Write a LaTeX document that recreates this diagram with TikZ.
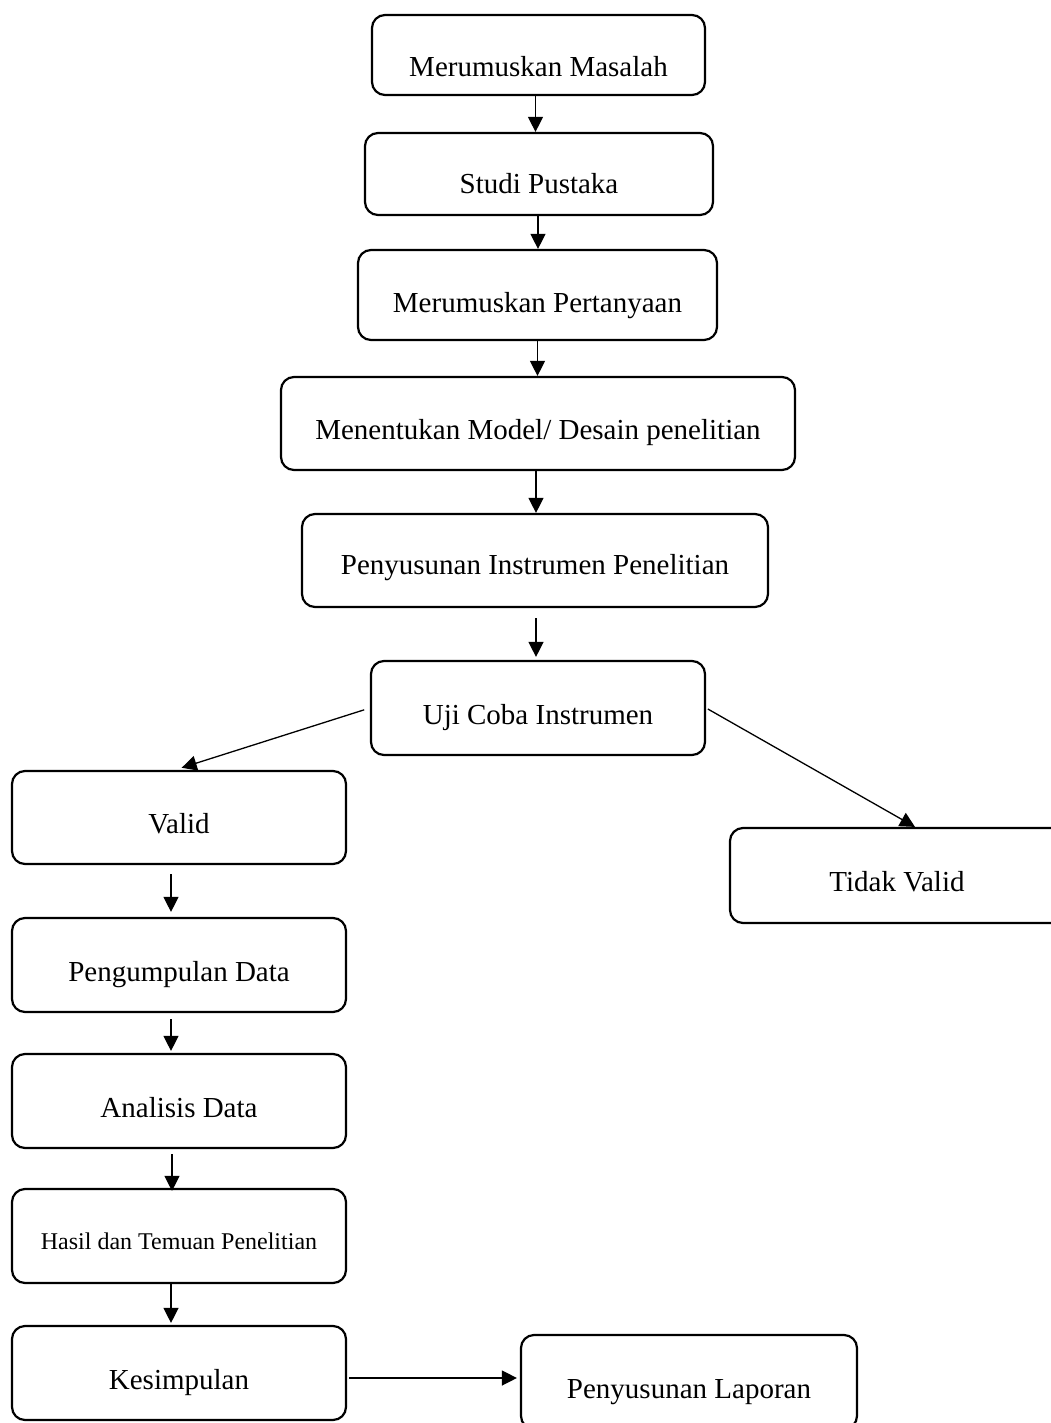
\documentclass[tikz,border=0pt]{standalone}
\usepackage{fontspec}
\setmainfont{Liberation Serif}
\usetikzlibrary{arrows.meta}
\begin{document}
\begin{tikzpicture}[x=1pt,y=-1pt,
  box/.style={draw, line width=2.2pt, rounded corners=13pt, inner sep=0pt,
    font=\fontsize{29}{34}\selectfont, text height=32pt, text depth=0pt, align=center},
  conn/.style={line width=1.3pt, -{Triangle[length=15pt,width=15pt]}}]
\useasboundingbox (0,0) rectangle (1051,1423);
\clip (0,0) rectangle (1051,1423);
\node[box, minimum width=333pt, minimum height=80pt, text height=44pt] (m1) at (538.5,55) {Merumuskan Masalah};
\node[box, minimum width=348pt, minimum height=82pt, text height=40pt] (m2) at (539,174) {Studi Pustaka};
\node[box, minimum width=359pt, minimum height=90pt, text height=34pt] (m3) at (537.5,295) {Merumuskan Pertanyaan};
\node[box, minimum width=514pt, minimum height=93pt] (m4) at (538,423.5) {Menentukan Model/ Desain penelitian};
\node[box, minimum width=466pt, minimum height=93pt, text height=28pt] (m5) at (535,560.5) {Penyusunan Instrumen Penelitian};
\node[box, minimum width=334pt, minimum height=94pt] (m6) at (538,708) {Uji Coba Instrumen};
\node[box, minimum width=334pt, minimum height=93pt] (valid) at (179,817.5) {Valid};
\node[box, minimum width=334pt, minimum height=95pt] (tv) at (897,875.5) {Tidak Valid};
\node[box, minimum width=334pt, minimum height=94pt] (peng) at (179,965) {Pengumpulan Data};
\node[box, minimum width=334pt, minimum height=94pt] (anal) at (179,1101) {Analisis Data};
\node[box, minimum width=334pt, minimum height=94pt, font=\fontsize{24}{28}\selectfont, text height=27pt] (hasil) at (179,1236) {Hasil dan Temuan Penelitian};
\node[box, minimum width=334pt, minimum height=94pt] (kes) at (179,1373) {Kesimpulan};
\node[box, minimum width=336pt, minimum height=94pt] (lap) at (689,1382) {Penyusunan Laporan};

\draw[conn] ([xshift=-3pt]m1.south) -- ([xshift=-3pt]m1.south |- m2.north);
\draw[conn] ([xshift=-1pt]m2.south) -- ([xshift=-1pt]m2.south |- m3.north);
\draw[conn, shorten <=-2pt] (m3.south) -- (m3.south |- m4.north);
\draw[conn] ([xshift=-2pt]m4.south) -- ([xshift=-2pt]m4.south |- m5.north);
\draw[conn, shorten <=10pt, shorten >=3pt] ([xshift=1pt]m5.south) -- ([xshift=1pt]m5.south |- m6.north);
\draw[conn, shorten <=6pt, shorten >=7pt] (m6.west) -- ([xshift=-4pt]valid.north);
\draw[conn, shorten <=2pt] (m6.east) -- ([xshift=18pt]tv.north);
\draw[conn, shorten <=9pt, shorten >=5pt] ([xshift=-8pt]valid.south) -- ([xshift=-8pt]valid.south |- peng.north);
\draw[conn, shorten <=6pt, shorten >=2pt] ([xshift=-8pt]peng.south) -- ([xshift=-8pt]peng.south |- anal.north);
\draw[conn, shorten <=5pt, shorten >=-3pt] ([xshift=-7pt]anal.south) -- ([xshift=-7pt]anal.south |- hasil.north);
\draw[conn, shorten >=2pt] ([xshift=-8pt]hasil.south) -- ([xshift=-8pt]hasil.south |- kes.north);
\draw[conn, shorten <=2pt, shorten >=3pt] ([yshift=-5pt]kes.east) -- ([yshift=-5pt]kes.east -| lap.west);
\end{tikzpicture}
\end{document}
